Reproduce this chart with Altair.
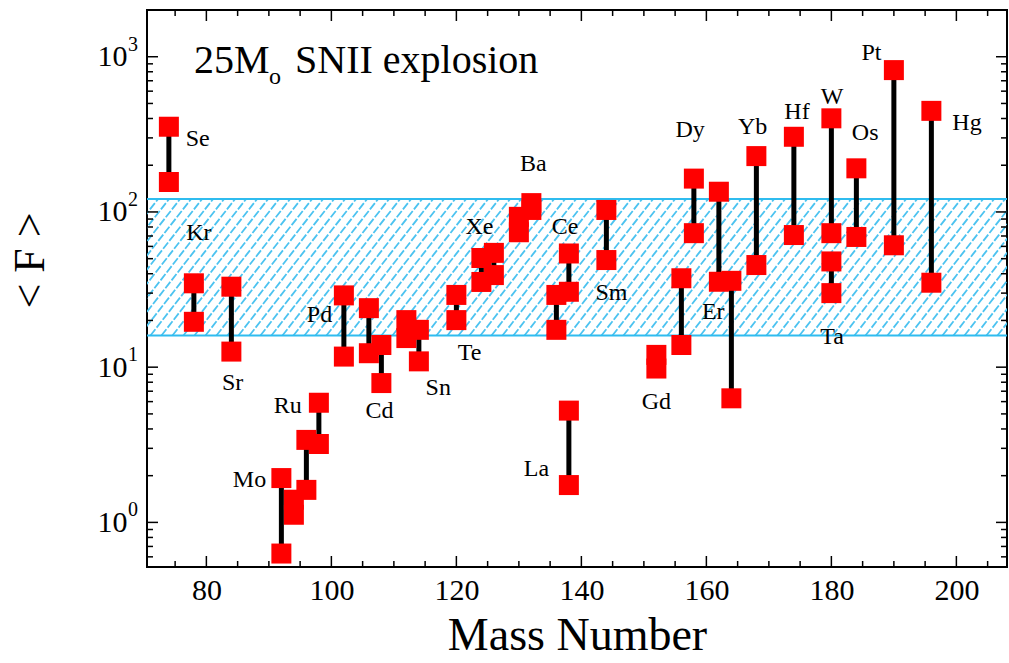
import altair as alt
import numpy as np
import pandas as pd

# p-nuclides: mass number with the lower and upper mean overproduction factor <F>
element = ["Se", "Kr", "Sr", "Mo", "Mo", "Ru", "Ru", "Pd", "Cd", "Cd", "Sn", "Sn",
           "Te", "Xe", "Xe", "Ba", "Ba", "La", "Ce", "Ce", "Sm", "Gd", "Dy", "Dy",
           "Er", "Er", "Yb", "Hf", "W", "Ta", "Os", "Pt", "Hg"]
mass = [74, 78, 84, 92, 94, 96, 98, 102, 106, 108, 112, 114,
        120, 124, 126, 130, 132, 138, 136, 138, 144, 152, 156, 158,
        162, 164, 168, 174, 180, 180, 184, 190, 196]
f_low = [156, 19.6, 12.6, 0.63, 1.12, 1.62, 3.2, 11.7, 12.3, 7.9, 15.4, 10.9,
         20.1, 35.4, 39.2, 74, 103, 1.74, 17.4, 30.6, 49, 9.8, 13.9, 73,
         35.5, 6.3, 45.5, 71, 73, 30, 69, 61, 35]
f_high = [354, 34.7, 33, 1.93, 1.40, 3.4, 5.9, 29, 24, 13.9, 20.1, 17.4,
          29.2, 50.5, 54.5, 93, 114, 5.25, 29.2, 54, 103, 12.0, 37.4, 164,
          135, 36, 229, 305, 401, 48, 191, 820, 448]

# element name annotations (anchor in mass number / <F>)
label_text = ["Se", "Kr", "Sr", "Ru", "Mo", "Pd", "Cd", "Sn", "Te", "Xe", "Ba", "Ce",
              "Sm", "La", "Gd", "Dy", "Er", "Yb", "Hf", "W", "Os", "Pt", "Hg", "Ta"]
label_mass = [78.6, 78.8, 84.2, 93.0, 86.9, 98.1, 107.7, 117.1, 122.1, 123.7, 132.3, 137.4,
              144.8, 132.8, 152.0, 157.4, 161.1, 167.4, 174.5, 180.1, 185.4, 186.4, 201.7, 180.1]
label_f = [293, 73, 7.9, 5.6, 1.88, 21.7, 5.2, 7.35, 12.3, 80, 205, 80,
           30, 2.2, 6.0, 337, 22.8, 354, 442, 552, 321, 1050, 372, 15.7]

# solar-like band of <F>
band_low, band_high = 16, 121

x_major = [80, 100, 120, 140, 160, 180, 200]
x_minor = [v for v in range(75, 210, 5) if v not in x_major]
y_major = [1, 10, 100, 1000]
y_minor = [0.6, 0.7, 0.8, 0.9] + [m * 10 ** k for k in range(0, 3) for m in range(2, 10)]

W, H = 860, 557
FONT = "Liberation Serif"
x_dom = [70.5, 208.1]
y_dom = [0.516, 2000]
xscale = alt.Scale(domain=x_dom, nice=False, zero=False)
yscale = alt.Scale(type="log", domain=y_dom, nice=False)

x_axis = alt.Axis(values=x_major, ticks=False, domain=False, grid=False,
                  labelFont=FONT, labelFontSize=30, labelPadding=8,
                  labelColor="black", titleFont=FONT, titleFontSize=46,
                  titleFontWeight="normal", titlePadding=8, titleColor="black")
y_axis = alt.Axis(values=y_major, labelExpr="'10'", ticks=False, domain=False,
                  grid=False, labelFont=FONT, labelFontSize=30, labelPadding=20,
                  labelColor="black", titleFont=FONT, titleFontSize=44,
                  titleFontWeight="normal", titleColor="black", titleAngle=270,
                  titleX=-117, titleY=250, titleAlign="center",
                  titleBaseline="middle")


def X(field):
    return alt.X(field, scale=xscale, axis=x_axis, title="Mass Number")


def Y(field):
    return alt.Y(field, scale=yscale, axis=y_axis, title="< F >")


pairs = pd.DataFrame({"element": element, "mass": mass, "lo": f_low, "hi": f_high})
points = pd.DataFrame({"mass": mass + mass, "f": f_low + f_high})
labels = pd.DataFrame({"t": label_text, "mass": label_mass, "f": label_f})

# diagonal hatching of the band
px_per_unit = W / (x_dom[1] - x_dom[0])
px_per_dec = H / np.log10(y_dom[1] / y_dom[0])
band_px = px_per_dec * np.log10(band_high / band_low)
run = band_px / np.tan(np.radians(52)) / px_per_unit
step = 11 / px_per_unit
starts = np.arange(x_dom[0] - run, x_dom[1] + step, step)
hatch = pd.DataFrame({"x0": starts, "x1": starts + run,
                      "y0": band_low, "y1": band_high})

hatch_layer = alt.Chart(hatch).mark_rule(
    color="#4cc3f0", strokeWidth=1.8, strokeDash=[8, 2], clip=True
).encode(x=X("x0:Q"), x2="x1:Q", y=Y("y0:Q"), y2="y1:Q")

edges = alt.Chart(pd.DataFrame({"b": [band_low, band_high]})).mark_rule(
    color="#2fbcef", strokeWidth=2
).encode(y=Y("b:Q"), x=alt.value(0), x2=alt.value(W))

label_layer = alt.Chart(labels).mark_text(
    font=FONT, fontSize=24, color="black", align="center", baseline="middle"
).encode(x=X("mass:Q"), y=Y("f:Q"), text="t:N")

lines = alt.Chart(pairs).mark_rule(color="black", strokeWidth=5).encode(
    x=X("mass:Q"), y=Y("lo:Q"), y2="hi:Q"
)

squares = alt.Chart(points).mark_square(size=400, color="#ff0000", opacity=1).encode(
    x=X("mass:Q"), y=Y("f:Q")
)

# decade exponents next to the "10" labels
exps = alt.Chart(pd.DataFrame({"f": y_major, "e": ["0", "1", "2", "3"]})).mark_text(
    font=FONT, fontSize=20, color="black", align="left", baseline="middle", dy=-12
).encode(y=Y("f:Q"), x=alt.value(-19), text="e:N")


def x_ticks(vals, length):
    df = pd.DataFrame({"v": vals})
    base = alt.Chart(df).mark_rule(color="black", strokeWidth=1.5)
    bottom = base.encode(x=X("v:Q"), y=alt.value(H), y2=alt.value(H - length))
    top = base.encode(x=X("v:Q"), y=alt.value(0), y2=alt.value(length))
    return [bottom, top]


def y_ticks(vals, length):
    df = pd.DataFrame({"v": vals})
    base = alt.Chart(df).mark_rule(color="black", strokeWidth=1.5)
    left = base.encode(y=Y("v:Q"), x=alt.value(0), x2=alt.value(length))
    right = base.encode(y=Y("v:Q"), x=alt.value(W), x2=alt.value(W - length))
    return [left, right]


tick_layers = (x_ticks(x_major, 11) + x_ticks(x_minor, 6)
               + y_ticks(y_major, 11) + y_ticks(y_minor, 6))


def note(text, x, y, size):
    return alt.Chart(pd.DataFrame({"t": [text]})).mark_text(
        font=FONT, fontSize=size, color="black", align="left",
        baseline="alphabetic"
    ).encode(x=alt.value(x), y=alt.value(y), text="t:N")


title_layers = [note("25M", 47, 63, 40), note("o", 122, 74, 24),
                note("SNII explosion", 148, 63, 40)]

chart = alt.layer(
    hatch_layer, edges, label_layer, lines, squares, *tick_layers, exps,
    *title_layers
).properties(
    width=W, height=H,
    autosize=alt.AutoSizeParams(type="none"),
    padding={"left": 147, "top": 10, "right": 2, "bottom": 96},
).configure_view(stroke="black", strokeWidth=2)

chart.save("out.html", embed_options={"renderer": "svg", "actions": False})
